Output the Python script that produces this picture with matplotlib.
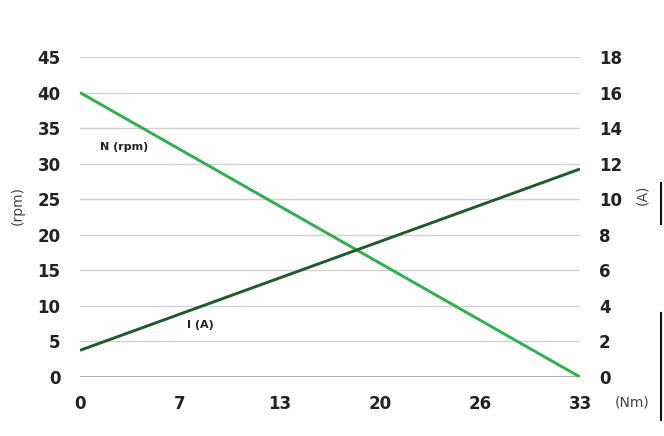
import matplotlib
matplotlib.use("Agg")
import matplotlib.pyplot as plt
from matplotlib.lines import Line2D

torque_labels = ["0", "7", "13", "20", "26", "33"]
torque_ends = [0, 5]          # positions of first / last tick category
speed_rpm = [40.0, 0.0]       # N (rpm) at 0 and 33 Nm
current_a = [1.5, 11.7]       # I (A) at 0 and 33 Nm
left_ticks = [0, 5, 10, 15, 20, 25, 30, 35, 40, 45]
right_ticks = [0, 2, 4, 6, 8, 10, 12, 14, 16, 18]

plt.rcParams['font.family'] = ['DejaVu Sans']

fig = plt.figure(figsize=(6.64, 4.36), dpi=100)
ax = fig.add_axes([80/664, 59/436, 500/664, 320/436])
ax2 = ax.twinx()

ax.set_xlim(0, 5)
ax.set_ylim(0, 45)
ax2.set_ylim(0, 18)

for v in left_ticks[1:]:
    ax.axhline(v, color="#d2d2d2", lw=1.0, zorder=0)
ax.axhline(0, color="#a0a0a0", lw=1.2, zorder=0)

ax.plot(torque_ends, speed_rpm, color="#2db04b", lw=2.1, zorder=3, solid_capstyle="butt")
ax2.plot(torque_ends, current_a, color="#1f5a2b", lw=2.1, zorder=3, solid_capstyle="butt")

ax.set_xticks(range(len(torque_labels)))
ax.set_xticklabels(torque_labels)
ax.set_yticks(left_ticks)
ax2.set_yticks(right_ticks)

for a in (ax, ax2):
    for s in a.spines.values():
        s.set_visible(False)
ax.tick_params(axis="x", length=0, pad=13, labelsize=12, labelcolor="#222222")
ax.tick_params(axis="y", length=0, pad=14, labelsize=12, labelcolor="#222222")
ax2.tick_params(axis="y", length=0, pad=13.5, labelsize=12, labelcolor="#222222")
for lab in ax.get_xticklabels() + ax.get_yticklabels() + ax2.get_yticklabels():
    lab.set_fontweight("bold")

fig.text(18/664, 1 - 205/436, "(rpm)", rotation=90, ha="center", va="center",
         fontsize=10, color="#444444")
fig.text(642/664, 1 - 195/436, "(A)", rotation=90, ha="center", va="center",
         fontsize=10, color="#444444")
fig.text(632/664, 1 - 402/436, "(Nm)", ha="center", va="center",
         fontsize=10, color="#444444")

ax.text(0.2, 32.3, "N (rpm)", fontsize=8, fontweight="bold", color="#222222",
        ha="left", va="center")
ax.text(1.07, 7.3, "I (A)", fontsize=8, fontweight="bold", color="#222222",
        ha="left", va="center")

fig.add_artist(Line2D([661/664, 661/664], [1 - 183/436, 1 - 224/436],
                      transform=fig.transFigure, color="#111111", lw=1.5))
fig.add_artist(Line2D([661/664, 661/664], [1 - 313/436, 1 - 420/436],
                      transform=fig.transFigure, color="#111111", lw=1.5))

fig.savefig("out.png", dpi=100, facecolor="white")
